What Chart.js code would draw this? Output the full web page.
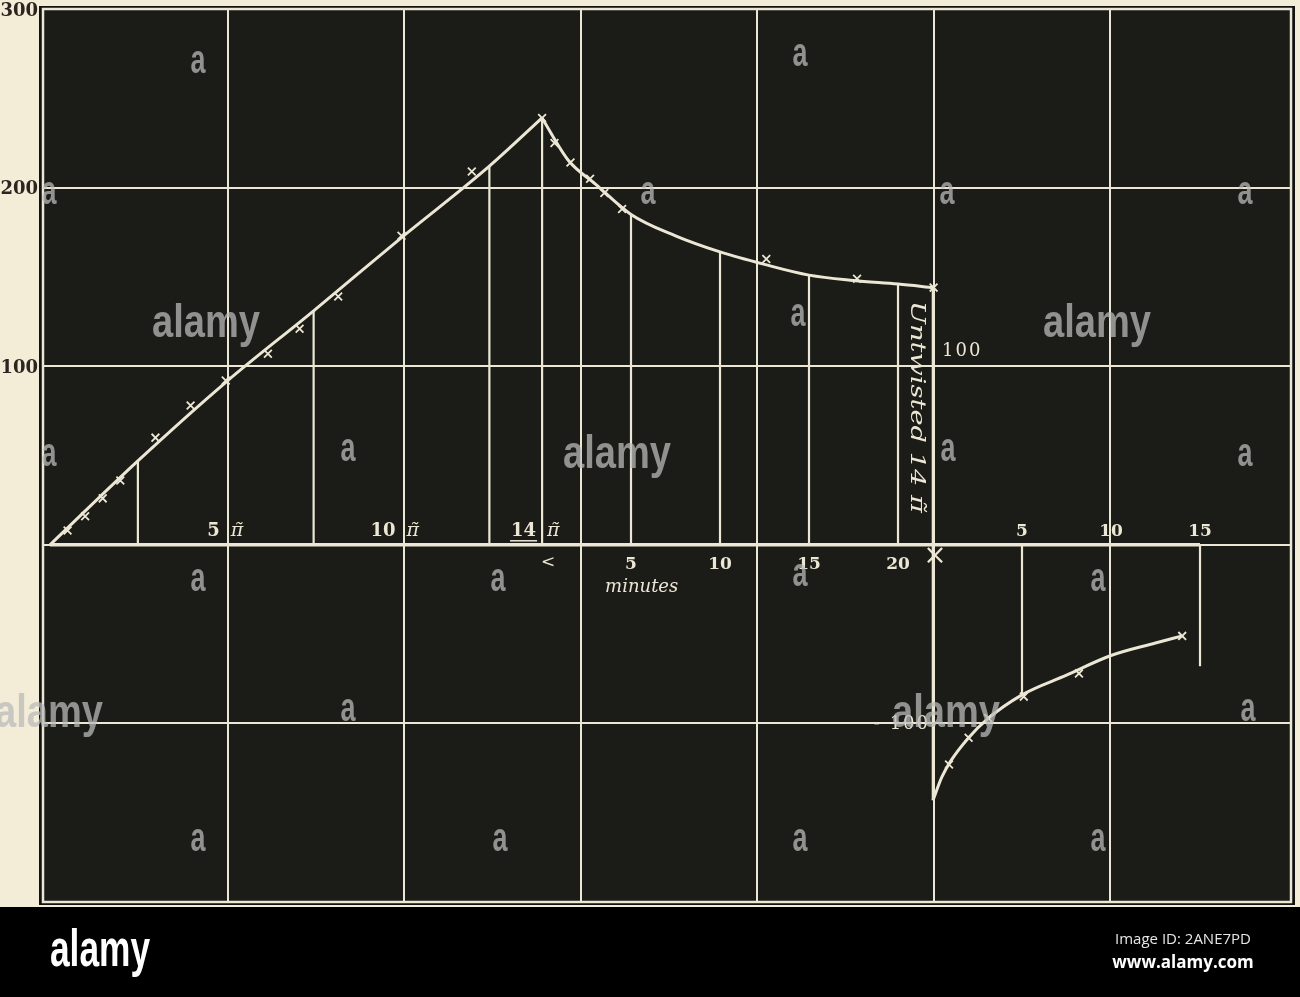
<!DOCTYPE html>
<html><head><meta charset="utf-8">
<script src="https://cdn.jsdelivr.net/npm/chart.js@4.4.1/dist/chart.umd.min.js"></script>
<style>html,body{margin:0;padding:0;background:#000;}canvas{display:block;}</style>
</head><body>
<canvas id="c" width="1300" height="997"></canvas>
<script>
// ---- data ----
// Part 1: while twisting, x in turns of pi
const twistCurveN = [0, 2.5, 5, 7.5, 10, 12.5, 14];
const twistCurveV = [0, 47, 91, 131, 172, 212, 239];
const twistMarkN = [0.5, 1, 1.5, 2, 3, 4, 5, 6.2, 7.1, 8.2, 10, 12, 14];
const twistMarkV = [8, 16, 26, 36, 60, 78, 92, 107, 121, 139, 173, 209, 239];
const twistDropN = [2.5, 7.5, 12.5, 14];
const twistDropV = [47, 131, 212, 239];
const twistLabels = [5, 10, 14];

// Part 2: at rest after twisting, x in minutes
const restCurveM = [0, 1.5, 3, 5, 7.5, 10, 12.5, 15, 17.5, 20, 22];
const restCurveV = [239, 215, 202, 185, 173, 164, 157, 151, 148, 146, 144];
const restMarkM = [0.7, 1.6, 2.7, 3.5, 4.5, 12.6, 17.7, 22];
const restMarkV = [225, 214, 205, 197, 188, 160, 149, 144];
const restDropM = [5, 10, 15, 20];
const restDropV = [185, 164, 151, 146];
const restLabels = [5, 10, 15, 20];

// Part 3: after untwisting, x in minutes
const untwCurveM = [0, 0.5, 1, 2, 3, 5, 7.5, 10, 12.5, 14];
const untwCurveV = [-143, -130, -121, -108, -98, -84, -73, -62, -55, -51];
const untwMarkM = [0.9, 2, 3.1, 5.1, 8.2, 14];
const untwMarkV = [-123, -108, -97, -85, -72, -51];
const untwDropM = [5, 15];
const untwDropV = [-84, -68];
const untwLineV = [144, -143];
const untwLabels = [5, 10, 15];
const innerYLabels = [100, -100];

const yTicks = [300, 200, 100];

// ---- styling ----
const ink = '#ece7d5';
const dark = '#1b1b17';
const cream = '#f3ecd6';
const wmColor = 'rgba(186,186,186,0.74)';

const zip = (xs, ys) => xs.map((x, i) => ({x: x, y: ys[i]}));
const lineDs = (axis, pts, w, extra) => Object.assign({
  type: 'line', xAxisID: axis, yAxisID: 'y', data: pts, borderColor: ink,
  borderWidth: w, pointRadius: 0, fill: false, tension: 0
}, extra || {});
const markDs = (axis, pts) => ({
  type: 'line', showLine: false, xAxisID: axis, yAxisID: 'y', data: pts,
  pointStyle: 'crossRot', pointRadius: 5.5, pointBorderWidth: 1.8,
  pointBorderColor: ink, pointBackgroundColor: ink, borderColor: ink
});

const datasets = [];
// base lines
datasets.push(lineDs('xTwist', [{x: 0, y: 0}, {x: twistCurveN[twistCurveN.length - 1], y: 0}], 3.5));
datasets.push(lineDs('xRest', [{x: 0, y: 0}, {x: restCurveM[restCurveM.length - 1], y: 0}], 3.5));
datasets.push(lineDs('xUntw', [{x: 0, y: 0}, {x: untwDropM[untwDropM.length - 1], y: 0}], 3.5));
// drop lines
twistDropN.forEach((n, i) => datasets.push(lineDs('xTwist', [{x: n, y: 0}, {x: n, y: twistDropV[i]}], 2.2)));
restDropM.forEach((m, i) => datasets.push(lineDs('xRest', [{x: m, y: 0}, {x: m, y: restDropV[i]}], 2.2)));
untwDropM.forEach((m, i) => datasets.push(lineDs('xUntw', [{x: m, y: 0}, {x: m, y: untwDropV[i]}], 2.2)));
datasets.push(lineDs('xUntw', [{x: 0, y: untwLineV[0]}, {x: 0, y: untwLineV[1]}], 2.6));
// curves
datasets.push(lineDs('xTwist', zip(twistCurveN, twistCurveV), 3, {cubicInterpolationMode: 'monotone'}));
datasets.push(lineDs('xRest', zip(restCurveM, restCurveV), 3, {cubicInterpolationMode: 'monotone'}));
datasets.push(lineDs('xUntw', zip(untwCurveM, untwCurveV), 3, {cubicInterpolationMode: 'monotone'}));
// markers
datasets.push(markDs('xTwist', zip(twistMarkN, twistMarkV)));
datasets.push(markDs('xRest', zip(restMarkM, restMarkV)));
datasets.push(markDs('xUntw', zip(untwMarkM, untwMarkV)));

function txt(ctx, s, x, y, font, align, base, color) {
  ctx.save();
  ctx.font = font; ctx.fillStyle = color || ink;
  ctx.textAlign = align || 'center'; ctx.textBaseline = base || 'middle';
  ctx.fillText(s, x, y);
  ctx.restore();
}
function wm(ctx, s, cx, baseline, size, width, color) {
  ctx.save();
  ctx.font = 'bold ' + size + 'px "Liberation Sans Narrow", "Liberation Sans", sans-serif';
  const w = ctx.measureText(s).width;
  ctx.translate(cx, baseline); ctx.scale(width / w, 1);
  ctx.fillStyle = color; ctx.textAlign = 'center'; ctx.textBaseline = 'alphabetic';
  ctx.fillText(s, 0, 0);
  ctx.restore();
}

const bgPlugin = {
  id: 'bg',
  beforeDraw(chart) {
    const ctx = chart.ctx, a = chart.chartArea;
    ctx.save();
    ctx.fillStyle = cream; ctx.fillRect(0, 0, 1300, 907);
    ctx.fillStyle = '#000'; ctx.fillRect(0, 907, 1300, 90);
    ctx.fillStyle = '#121210'; ctx.fillRect(a.left - 4, a.top - 3, a.width + 8, a.height + 6);
    ctx.fillStyle = dark; ctx.fillRect(a.left, a.top, a.width, a.height);
    ctx.restore();
  }
};

const serifB = (s) => 'bold ' + s + 'px "DejaVu Serif", "Liberation Serif", serif';
const serif = (s) => s + 'px "DejaVu Serif", "Liberation Serif", serif';
const serifI = (s) => 'italic ' + s + 'px "DejaVu Serif", "Liberation Serif", serif';
const PI = '\u03C0\u0303';

const textPlugin = {
  id: 'texts',
  afterDraw(chart) {
    const ctx = chart.ctx, a = chart.chartArea, S = chart.scales;
    const Y0 = S.y.getPixelForValue(0);
    // frame
    ctx.save(); ctx.strokeStyle = ink; ctx.lineWidth = 2.5;
    ctx.strokeRect(a.left, a.top, a.width, a.height); ctx.restore();

    // y tick labels on the paper margin
    yTicks.forEach(v => {
      txt(ctx, String(v), a.left - 5, S.y.getPixelForValue(v) + 2, serifB(18), 'right', 'middle', '#2a2520');
    });

    // part 1 labels (above axis)
    twistLabels.forEach(n => {
      const x = S.xTwist.getPixelForValue(n);
      const lab = String(n);
      ctx.save(); ctx.font = serifB(18);
      const w = ctx.measureText(lab).width; ctx.restore();
      txt(ctx, lab, x - 6, Y0 - 13, serifB(18), 'right', 'middle');
      txt(ctx, PI, x + 5, Y0 - 14, serifI(19), 'left', 'middle');
      if (n === twistLabels[twistLabels.length - 1]) {
        ctx.save(); ctx.strokeStyle = ink; ctx.lineWidth = 1.5;
        ctx.beginPath(); ctx.moveTo(x - 7 - w, Y0 - 4); ctx.lineTo(x - 5, Y0 - 4); ctx.stroke(); ctx.restore();
      }
    });
    // part 2 labels (below axis)
    restLabels.forEach(m => {
      txt(ctx, String(m), S.xRest.getPixelForValue(m), Y0 + 20, serifB(17), 'center', 'middle');
    });
    txt(ctx, '<', S.xRest.getPixelForValue(0) + 6, Y0 + 18, serif(17), 'center', 'middle');
    txt(ctx, 'minutes', S.xRest.getPixelForValue(5.6), Y0 + 43, serifI(18), 'center', 'middle');
    txt(ctx, '\u00D7', S.xUntw.getPixelForValue(0) + 2, Y0 + 12, serif(28), 'center', 'middle');
    // part 3 labels (above axis)
    untwLabels.forEach(m => {
      txt(ctx, String(m), S.xUntw.getPixelForValue(m), Y0 - 13, serifB(17), 'center', 'middle');
    });
    // inner y labels
    const xu = S.xUntw.getPixelForValue(0);
    ctx.save(); ctx.letterSpacing = '2px';
    txt(ctx, String(innerYLabels[0]), xu + 9, S.y.getPixelForValue(innerYLabels[0]) - 15, serif(18), 'left', 'middle');
    txt(ctx, '- ' + String(Math.abs(innerYLabels[1])), xu - 3, S.y.getPixelForValue(innerYLabels[1]) + 1, serif(18), 'right', 'middle');
    ctx.restore();
    // rotated label
    const xr = (S.xRest.getPixelForValue(20) + xu) / 2;
    ctx.save();
    ctx.translate(xr + 1, 407); ctx.rotate(Math.PI / 2);
    ctx.font = serifI(21);
    const tw = ctx.measureText('Untwisted 14 ' + PI).width;
    ctx.scale(212 / tw, 1);
    ctx.fillStyle = ink; ctx.textAlign = 'center'; ctx.textBaseline = 'middle';
    ctx.fillText('Untwisted 14 ' + PI, 0, 0);
    ctx.restore();

    // watermarks
    [[206, 337], [617, 468], [1097, 337], [49, 727], [946, 727]].forEach(p => wm(ctx, 'alamy', p[0], p[1], 46, 108, wmColor));
    [[198, 73], [800, 66], [49, 204], [648, 204], [947, 204], [1245, 204], [798, 326], [49, 466], [348, 461], [948, 461], [1245, 466],
     [198, 591], [498, 591], [800, 586], [1098, 591], [348, 721], [1248, 721], [198, 851], [500, 851], [800, 851], [1098, 851]]
      .forEach(p => wm(ctx, 'a', p[0], p[1], 40, 15, wmColor));

    // bottom bar
    ctx.save();
    ctx.font = 'bold 52px "Liberation Sans Narrow", "Liberation Sans", sans-serif';
    const lw = ctx.measureText('alamy').width;
    ctx.translate(50, 966); ctx.scale(100 / lw, 1);
    ctx.fillStyle = '#ffffff'; ctx.textAlign = 'left'; ctx.textBaseline = 'alphabetic';
    ctx.fillText('alamy', 0, 0);
    ctx.restore();
    txt(ctx, 'Image ID: 2ANE7PD', 1183, 940, '15px "Open Sans", sans-serif', 'center', 'middle', '#e6e6e6');
    txt(ctx, 'www.alamy.com', 1183, 963, 'bold 17px "Open Sans", sans-serif', 'center', 'middle', '#ffffff');
  }
};

new Chart(document.getElementById('c'), {
  type: 'line',
  data: {datasets: datasets},
  options: {
    responsive: false, animation: false, events: [],
    layout: {padding: {top: 9, bottom: 95, left: 0, right: 9}},
    plugins: {legend: {display: false}, tooltip: {enabled: false}},
    scales: {
      xGrid: {
        type: 'linear', position: 'bottom', min: -0.0488, max: 7.026,
        afterBuildTicks: s => { s.ticks = [1, 2, 3, 4, 5, 6].map(v => ({value: v})); },
        ticks: {display: false},
        grid: {color: ink, lineWidth: 2, drawTicks: false},
        border: {display: false},
        afterFit: s => { s.height = 0; }
      },
      xTwist: {type: 'linear', display: false, min: -0.1991, max: 35.306},
      xRest: {type: 'linear', display: false, min: -28.034, max: 42.078},
      xUntw: {type: 'linear', display: false, min: -50.0, max: 20.112},
      y: {
        type: 'linear', min: -200, max: 300,
        ticks: {stepSize: 100, display: false},
        grid: {color: ink, lineWidth: 2, drawTicks: false},
        border: {display: false},
        afterFit: s => { s.width = 43; }
      }
    }
  },
  plugins: [bgPlugin, textPlugin]
});
</script>
</body></html>
